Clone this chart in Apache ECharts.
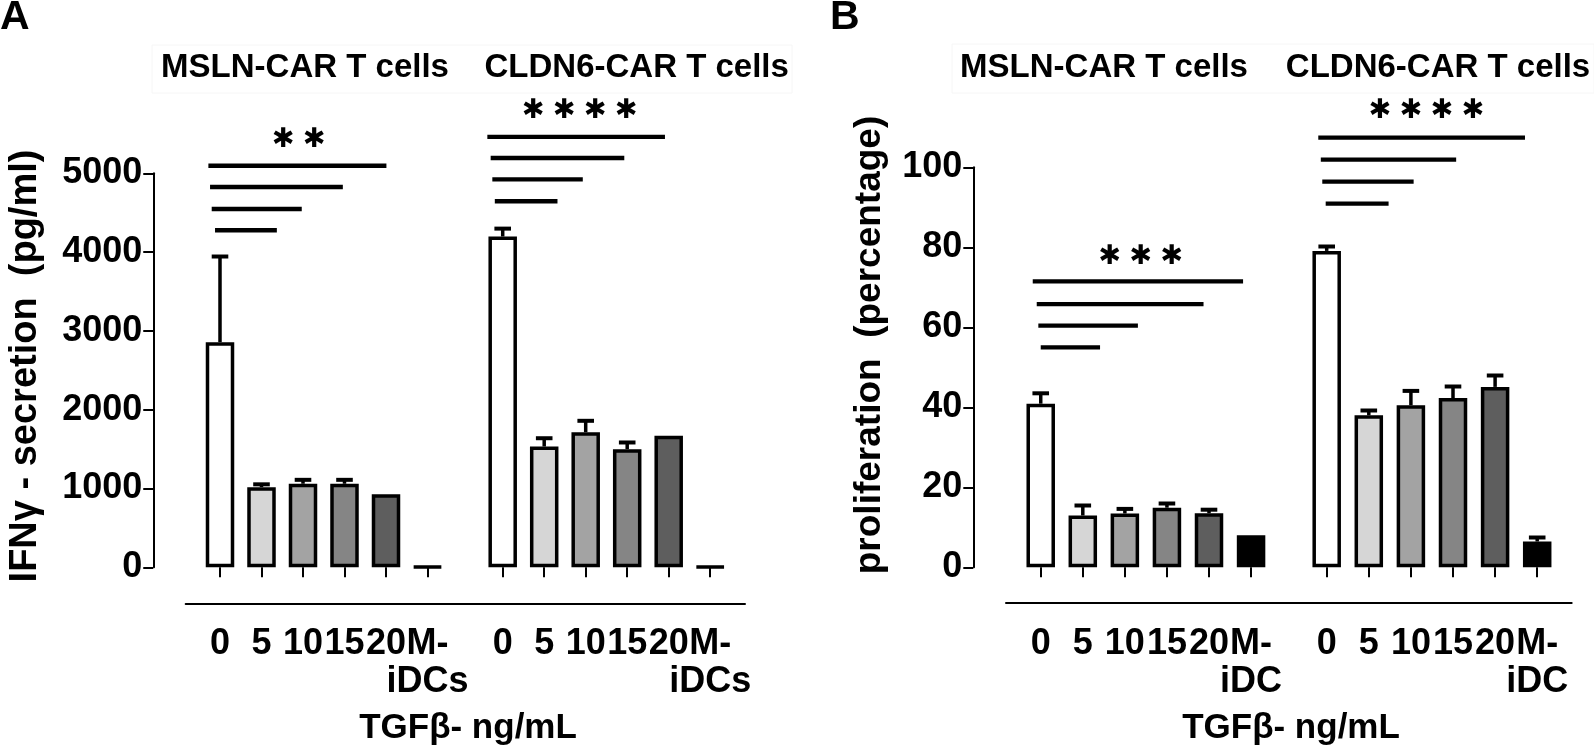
<!DOCTYPE html>
<html><head><meta charset="utf-8">
<script src="https://cdn.jsdelivr.net/npm/echarts@6/dist/echarts.min.js"></script>
<style>html,body{margin:0;padding:0;background:#fff}#c{width:1594px;height:745px}</style>
</head><body><div id="c"></div>
<script>
// ---------------- data ----------------
const categoriesA = ['0', '5', '10', '15', '20', 'M-\niDCs'];
const categoriesB = ['0', '5', '10', '15', '20', 'M-\niDC'];
const groupNames = ['MSLN-CAR T cells', 'CLDN6-CAR T cells'];
const yTitleA = 'IFNγ - secretion  (pg/ml)';
const yTitleB = 'proliferation  (percentage)';
const xTitle = 'TGFβ- ng/mL';

// Panel A: IFN-gamma secretion (pg/ml), mean and upper SD
const ifngMSLN = [2857, 1017, 1060, 1060, 928, 10];
const ifngMSLNErr = [1087, 36, 50, 50, 0, 0];
const ifngCLDN6 = [4198, 1533, 1714, 1499, 1669, 10];
const ifngCLDN6Err = [100, 105, 145, 85, 0, 0];

// Panel B: proliferation (%), mean and upper SD
const prolMSLN = [40.9, 12.95, 13.45, 14.9, 13.5, 8.0];
const prolMSLNErr = [2.6, 2.5, 1.15, 1.05, 0.9, 0];
const prolCLDN6 = [79.1, 38.0, 40.5, 42.3, 45.1, 6.45];
const prolCLDN6Err = [1.1, 1.2, 3.6, 2.9, 2.85, 1.0];

// significance lines: [from (category units), to (category units), level]
const sigA_MSLN = [[-0.28, 4.01, 5096], [-0.24, 2.96, 4826], [-0.2, 1.97, 4547], [-0.12, 1.37, 4277]];
const sigA_CLDN6 = [[-0.37, 3.91, 5461], [-0.29, 2.93, 5194], [-0.25, 1.93, 4924], [-0.19, 1.32, 4645]];
const sigB_MSLN = [[-0.19, 4.81, 71.5], [-0.095, 3.87, 65.8], [-0.057, 2.31, 60.4], [0, 1.41, 55.0]];
const sigB_CLDN6 = [[-0.2, 4.71, 107.4], [-0.14, 3.075, 101.9], [-0.105, 2.065, 96.4], [-0.024, 1.47, 90.9]];
// star labels: [text, centre (category units), level]
const starA_MSLN = ['**', 1.9, 5423];
const starA_CLDN6 = ['****', 1.86, 5790];
const starB_MSLN = ['***', 2.38, 77.6];
const starB_CLDN6 = ['****', 2.37, 114.1];

// ---------------- style ----------------
const FONT = '"Liberation Sans", Arial, sans-serif';
const STARFONT = '"DejaVu Sans", sans-serif';
const fills = ['#ffffff', '#d6d6d6', '#a3a3a3', '#858585', '#5e5e5e', '#000000'];

const chart = echarts.init(document.getElementById('c'), null, {renderer: 'canvas'});

function barSeries(g, values) {
  return {
    type: 'bar', xAxisIndex: g, yAxisIndex: g, barWidth: 28.5, z: 2,
    data: values.map((v, i) => ({value: v, itemStyle: {color: fills[i]}})),
    itemStyle: {borderColor: '#000', borderWidth: 3.5}
  };
}
function errSeries(g, values, errs) {
  return {
    type: 'custom', xAxisIndex: g, yAxisIndex: g, z: 4, clip: false,
    data: values.map((v, i) => [i, v, errs[i]]),
    renderItem: function (params, api) {
      const e = api.value(2);
      if (!e) return null;
      const base = api.coord([api.value(0), api.value(1)]);
      const top = api.coord([api.value(0), api.value(1) + e]);
      return {type: 'group', children: [
        {type: 'line', shape: {x1: base[0], y1: base[1], x2: top[0], y2: top[1]}, style: {stroke: '#000', lineWidth: 3.5}},
        {type: 'line', shape: {x1: top[0] - 8.3, y1: top[1], x2: top[0] + 8.3, y2: top[1]}, style: {stroke: '#000', lineWidth: 4}}
      ]};
    }
  };
}
function sigSeries(g, sig, star) {
  return {
    type: 'custom', xAxisIndex: g, yAxisIndex: g, z: 5, clip: false,
    data: sig.map((s, i) => [0, s[2]]).concat([[0, star[2]]]),
    renderItem: function (params, api) {
      const bw = api.size([1, 0])[0];
      if (params.dataIndex < sig.length) {
        const s = sig[params.dataIndex];
        const c0 = api.coord([0, s[2]]);
        return {type: 'line', shape: {x1: c0[0] + s[0] * bw, y1: c0[1], x2: c0[0] + s[1] * bw, y2: c0[1]},
          style: {stroke: '#000', lineWidth: 4.3}};
      }
      const c = api.coord([0, star[2]]);
      const cx = c[0] + star[1] * bw;
      const n = star[0].length;
      const step = 31;
      const children = [];
      for (let k = 0; k < n; k++) {
        children.push({type: 'text', x: cx + (k - (n - 1) / 2) * step, y: c[1],
          style: {text: '\u2731', font: 'bold 27px ' + STARFONT,
            align: 'center', verticalAlign: 'middle', textAlign: 'center', textVerticalAlign: 'middle', fill: '#000'}});
      }
      return {type: 'group', children: children};
    }
  };
}
function catAxis(g, cats, off) {
  return {
    type: 'category', gridIndex: g, data: cats, position: 'bottom', offset: off, boundaryGap: true,
    axisLine: {show: false},
    axisTick: {show: true, alignWithLabel: true, length: 10, lineStyle: {color: '#000', width: 2}},
    axisLabel: {color: '#000', fontSize: 36, fontWeight: 'bold', fontFamily: FONT, lineHeight: 38, margin: 22, interval: 0},
    splitLine: {show: false}
  };
}
function lineAxis(g) {
  return {type: 'value', gridIndex: g, min: 0, max: 1,
    axisLine: {show: true, onZero: false, lineStyle: {color: '#000', width: 2}},
    axisTick: {show: false}, axisLabel: {show: false}, splitLine: {show: false}};
}
function valAxis(g, max, interval, off, show) {
  return {
    type: 'value', gridIndex: g, min: 0, max: max, interval: interval, offset: off, show: show,
    axisLine: {show: true, lineStyle: {color: '#000', width: 2}},
    axisTick: {show: true, length: 10, lineStyle: {color: '#000', width: 2}},
    axisLabel: {color: '#000', fontSize: 36, fontWeight: 'bold', fontFamily: FONT, margin: 11,
      formatter: function (v) { return String(v); }},
    splitLine: {show: false}
  };
}
function txt(text, x, y, size, rot, align) {
  return {type: 'text', x: x, y: y, rotation: rot || 0, z: 10,
    style: {text: text, font: 'bold ' + size + 'px ' + FONT, fill: '#000',
      align: align || 'center', verticalAlign: 'middle', textAlign: align || 'center', textVerticalAlign: 'middle'}};
}

const gridBase = {containLabel: false, outerBoundsMode: 'none'};
const option = {
  animation: false,
  backgroundColor: '#fff',
  grid: [
    Object.assign({left: 199.25, top: 173.3, width: 249, height: 394}, gridBase),
    Object.assign({left: 481.95, top: 173.3, width: 249, height: 394}, gridBase),
    Object.assign({left: 185.7, top: 173.3, width: 559.3, height: 430}, gridBase),
    Object.assign({left: 1019.7, top: 167.3, width: 252.4, height: 400}, gridBase),
    Object.assign({left: 1305.65, top: 167.3, width: 252.6, height: 400}, gridBase),
    Object.assign({left: 1006, top: 167.3, width: 565.7, height: 435.4}, gridBase)
  ],
  xAxis: [
    catAxis(0, categoriesA, 36), catAxis(1, categoriesA, 36), lineAxis(2),
    catAxis(3, categoriesB, 35.4), catAxis(4, categoriesB, 35.4), lineAxis(5)
  ],
  yAxis: [
    valAxis(0, 5000, 1000, 46, true), valAxis(1, 5000, 1000, 0, false), {gridIndex: 2, show: false},
    valAxis(3, 100, 20, 46.4, true), valAxis(4, 100, 20, 0, false), {gridIndex: 5, show: false}
  ],
  series: [
    barSeries(0, ifngMSLN), errSeries(0, ifngMSLN, ifngMSLNErr), sigSeries(0, sigA_MSLN, starA_MSLN),
    barSeries(1, ifngCLDN6), errSeries(1, ifngCLDN6, ifngCLDN6Err), sigSeries(1, sigA_CLDN6, starA_CLDN6),
    barSeries(3, prolMSLN), errSeries(3, prolMSLN, prolMSLNErr), sigSeries(3, sigB_MSLN, starB_MSLN),
    barSeries(4, prolCLDN6), errSeries(4, prolCLDN6, prolCLDN6Err), sigSeries(4, sigB_CLDN6, starB_CLDN6)
  ],
  graphic: [
    {type: 'rect', shape: {x: 152, y: 45, width: 640, height: 48}, style: {fill: 'none', stroke: '#f6f6f6', lineWidth: 1}, z: 0},
    {type: 'rect', shape: {x: 952, y: 44, width: 642, height: 49}, style: {fill: 'none', stroke: '#f6f6f6', lineWidth: 1}, z: 0},
    txt('A', 0, 18, 41, 0, 'left'),
    txt('B', 830, 18, 41, 0, 'left'),
    txt(groupNames[0], 305, 68, 33),
    txt(groupNames[1], 636.7, 68, 33),
    txt(groupNames[0], 1104, 68, 33),
    txt(groupNames[1], 1438, 68, 33),
    txt(yTitleA, 26, 366, 38, Math.PI / 2),
    txt(yTitleB, 870, 345, 37, Math.PI / 2),
    txt(xTitle, 468, 728, 35),
    txt(xTitle, 1291, 728, 35)
  ]
};
chart.setOption(option);
</script>
</body></html>
